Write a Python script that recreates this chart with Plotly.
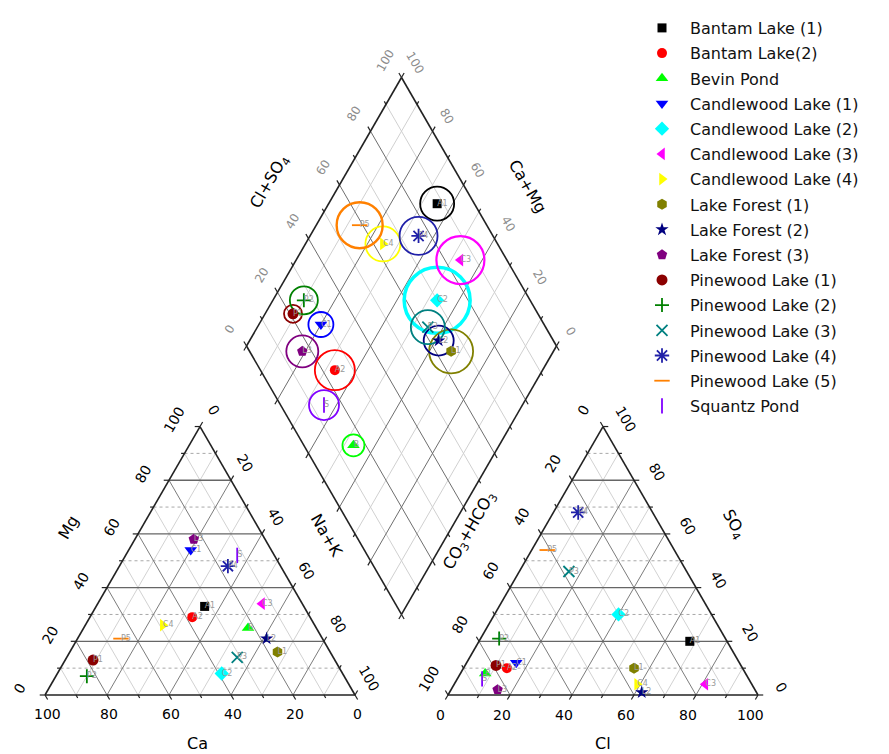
import math
import plotly.graph_objects as go

# ---------------- data (percent of meq) ----------------
names = ["Bantam Lake (1)", "Bantam Lake(2)", "Bevin Pond", "Candlewood Lake (1)",
         "Candlewood Lake (2)", "Candlewood Lake (3)", "Candlewood Lake (4)",
         "Lake Forest (1)", "Lake Forest (2)", "Lake Forest (3)", "Pinewood Lake (1)",
         "Pinewood Lake (2)", "Pinewood Lake (3)", "Pinewood Lake (4)",
         "Pinewood Lake (5)", "Squantz Pond"]
ids = ["A1", "A2", "B", "C1", "C2", "C3", "C4", "L1", "L2", "L3",
       "P1", "P2", "P3", "P4", "P5", "S"]
ca = [32, 38, 22, 26, 39, 13, 49, 17, 18, 23, 78, 83, 31, 17, 65, 12]
mg = [33, 29, 25, 54, 8, 34, 26, 16, 21, 58, 13, 7, 14, 48, 21, 52]
na_k = [35, 33, 53, 20, 53, 53, 25, 67, 61, 19, 9, 10, 55, 35, 14, 36]
cl = [68, 14, 8, 16, 40, 81, 59, 55, 62, 15, 10, 6, 16, 8, 5, 8]
so4 = [20, 10, 8, 12, 30, 4, 4, 10, 1, 2, 11, 21, 46, 68, 54, 6]
co3_hco3 = [12, 76, 84, 72, 30, 15, 37, 35, 37, 83, 79, 73, 38, 24, 41, 86]
tds = [340, 400, 220, 250, 660, 480, 350, 440, 300, 320, 180, 280, 340, 380, 460, 300]
tick_values = [0, 20, 40, 60, 80, 100]

# ---------------- styles ----------------
colors = ["#000000", "#ff0000", "#00ff00", "#0000ff", "#00ffff", "#ff00ff", "#ffff00",
          "#808000", "#000080", "#800080", "#8b0000", "#008000", "#008080", "#2020a8",
          "#ff8000", "#8000ff"]
symbols = ["square", "circle", "triangle-up", "triangle-down", "diamond", "triangle-left",
           "triangle-right", "hexagon", "star", "pentagon", "circle", "cross-thin-open",
           "x-thin-open", "asterisk-open", "line-ew-open", "line-ns-open"]
msizes = [9, 10, 11, 11, 11, 11, 11, 11, 10, 11, 11, 10, 11, 12, 11, 11]
circle_w = [1.8, 1.8, 1.8, 1.8, 3.5, 2.2, 1.8, 1.8, 1.8, 1.8, 1.8, 1.8, 1.8, 1.8, 2.4, 1.8]

FONT = "DejaVu Sans"
PAD = 8              # default page margin around the figure div
SCALE = 3.1          # px per unit
W, Hpx = 889 - PAD, 754 - PAD
OX, OY = 45 - PAD, 695 - PAD
H = 100 * math.sqrt(3) / 2


def upx(px, py):
    """page pixel -> data units"""
    return ((px - PAD - OX) / SCALE, (OY - (py - PAD)) / SCALE)


def cat_xy(c, m, n):
    t = c + m + n
    m, n = 100 * m / t, 100 * n / t
    return (n + m / 2, m * H / 100)


def an_xy(k, s, l):
    t = k + s + l
    s, l = 100 * s / t, 100 * l / t
    return (130 + l + s / 2, s * H / 100)


def dia_xy(n, k):
    return (115 + (n - k) / 2, (230 - n - k) * H / 100)


fig = go.Figure()


def add_segments(segs, color, width, dash="solid"):
    xs, ys = [], []
    for p, q in segs:
        xs += [p[0], q[0], None]
        ys += [p[1], q[1], None]
    fig.add_trace(go.Scatter(x=xs, y=ys, mode="lines", showlegend=False, hoverinfo="skip",
                             line=dict(color=color, width=width, dash=dash)))


# ---------------- grids ----------------
hor_major, hor_minor, dia_major, dia_minor, dm_major, dm_minor = [], [], [], [], [], []
for v in range(10, 100, 10):
    major = v % 20 == 0
    (hor_major if major else hor_minor).append((cat_xy(100 - v, v, 0), cat_xy(0, v, 100 - v)))
    (dia_major if major else dia_minor).append((cat_xy(v, 100 - v, 0), cat_xy(v, 0, 100 - v)))
    (dia_major if major else dia_minor).append((cat_xy(100 - v, 0, v), cat_xy(0, 100 - v, v)))
    (hor_major if major else hor_minor).append((an_xy(100 - v, v, 0), an_xy(0, v, 100 - v)))
    (dia_major if major else dia_minor).append((an_xy(100 - v, 0, v), an_xy(0, 100 - v, v)))
    (dia_major if major else dia_minor).append((an_xy(v, 100 - v, 0), an_xy(v, 0, 100 - v)))
    (dm_major if major else dm_minor).append((dia_xy(v, 0), dia_xy(v, 100)))
    (dm_major if major else dm_minor).append((dia_xy(0, v), dia_xy(100, v)))

add_segments(dia_minor, "#d2d2d2", 1)
add_segments(dm_minor, "#d0d0d0", 1)
add_segments(hor_minor, "#a8a8a8", 1, "dot")
add_segments(dia_major, "#7c7c7c", 1)
add_segments(dm_major, "#6e6e6e", 1)
add_segments(hor_major, "#666666", 1.3)

# ---------------- outlines ----------------
outline = []
tri_l = [cat_xy(100, 0, 0), cat_xy(0, 100, 0), cat_xy(0, 0, 100)]
tri_r = [an_xy(100, 0, 0), an_xy(0, 100, 0), an_xy(0, 0, 100)]
dmd = [dia_xy(0, 100), dia_xy(0, 0), dia_xy(100, 0), dia_xy(100, 100)]
for poly in (tri_l, tri_r, dmd):
    for i in range(len(poly)):
        outline.append((poly[i], poly[(i + 1) % len(poly)]))

s3 = math.sqrt(3) / 2
axes_def = [
    (lambda v: cat_xy(v, 0, 100 - v), (0.5, -s3)),      # Ca base
    (lambda v: cat_xy(100 - v, v, 0), (-1, 0)),         # Mg left
    (lambda v: cat_xy(0, 100 - v, v), (0.5, s3)),       # Na+K right
    (lambda v: an_xy(100 - v, 0, v), (-0.5, -s3)),      # Cl base
    (lambda v: an_xy(v, 100 - v, 0), (-0.5, s3)),       # CO3 left
    (lambda v: an_xy(0, v, 100 - v), (1, 0)),           # SO4 right
    (lambda v: dia_xy(0, 100 - v), (-0.5, s3)),         # Cl+SO4 upper-left
    (lambda v: dia_xy(100 - v, 0), (0.5, s3)),          # Ca+Mg upper-right
    (lambda v: dia_xy(v, 100), (-0.5, -s3)),            # lower-left
    (lambda v: dia_xy(100, v), (0.5, -s3)),             # lower-right
]
ticks = []
for f, (dx, dy) in axes_def:
    for v in range(0, 101, 10):
        p = f(v)
        ln = 1.7 if v % 20 == 0 else 1.1
        ticks.append((p, (p[0] + dx * ln, p[1] + dy * ln)))
add_segments(ticks, "#222222", 1.2)
add_segments(outline, "#222222", 1.6)

# ---------------- diamond circles (size ~ TDS) ----------------
for i, nm in enumerate(names):
    dx_, dy_ = dia_xy(na_k[i], co3_hco3[i])
    fig.add_trace(go.Scatter(
        x=[dx_], y=[dy_], mode="markers", legendgroup=nm, showlegend=False,
        marker=dict(symbol="circle-open", size=tds[i] / 10, color=colors[i],
                    line=dict(color=colors[i], width=circle_w[i])),
        hoverinfo="skip"))

# ---------------- sample markers ----------------
lab_x, lab_y, lab_t = [], [], []
for i, nm in enumerate(names):
    p1 = cat_xy(ca[i], mg[i], na_k[i])
    p2 = an_xy(co3_hco3[i], so4[i], cl[i])
    p3 = dia_xy(na_k[i], co3_hco3[i])
    open_sym = symbols[i].endswith("-open")
    mk = dict(symbol=symbols[i], size=msizes[i], color=colors[i],
              line=dict(color=colors[i], width=1.8 if open_sym else 0))
    fig.add_trace(go.Scatter(
        x=[p1[0], p2[0], p3[0]], y=[p1[1], p2[1], p3[1]], mode="markers",
        name=nm, legendgroup=nm, showlegend=True, marker=mk,
        hovertemplate=nm + "<extra></extra>"))
    for p in (p1, p2, p3):
        lab_x.append(p[0])
        lab_y.append(p[1])
        lab_t.append(ids[i])

fig.add_trace(go.Scatter(x=lab_x, y=lab_y, text=lab_t, mode="text", textposition="middle right",
                         textfont=dict(family=FONT, size=8, color="#9a9a9a"),
                         showlegend=False, hoverinfo="skip"))

# ---------------- tick labels ----------------
ann = []
label_defs = [
    (lambda v: cat_xy(v, 0, 100 - v), (2, 19), 0, "black", 14),
    (lambda v: cat_xy(100 - v, v, 0), (-26, -6.5), -60, "black", 14),
    (lambda v: cat_xy(0, 100 - v, v), (14, -17), 60, "black", 14),
    (lambda v: an_xy(100 - v, 0, v), (-8, 20), 0, "black", 14),
    (lambda v: an_xy(v, 100 - v, 0), (-19.5, -16.5), -60, "black", 14),
    (lambda v: an_xy(0, v, 100 - v), (23, -8), 60, "black", 14),
    (lambda v: dia_xy(0, 100 - v), (-16.5, -16.8), -60, "#8c8c8c", 12),
    (lambda v: dia_xy(100 - v, 0), (14, -15), 60, "#8c8c8c", 12),
]
for f, (ox, oy), ang, col, fs in label_defs:
    for v in tick_values:
        p = f(v)
        ann.append(dict(x=p[0] + ox / SCALE, y=p[1] - oy / SCALE, text=str(v), showarrow=False,
                        textangle=ang, xanchor="center", yanchor="middle",
                        font=dict(family=FONT, size=fs, color=col)))

titles = [
    ("Ca", (197, 743), 0), ("Mg", (68, 527), -60), ("Na+K", (327, 535), 60),
    ("Cl", (603, 743), 0), ("CO<sub>3</sub>+HCO<sub>3</sub>", (469, 531), -60),
    ("SO<sub>4</sub>", (734, 524), 60), ("Cl+SO<sub>4</sub>", (269, 182), -60),
    ("Ca+Mg", (528, 186), 60),
]
for t, (px, py), ang in titles:
    x, y = upx(px, py)
    ann.append(dict(x=x, y=y, text=t, showarrow=False, textangle=ang,
                    xanchor="center", yanchor="middle",
                    font=dict(family=FONT, size=16, color="black")))

fig.update_layout(
    width=W, height=Hpx, autosize=False,
    margin=dict(l=0, r=0, t=0, b=0, pad=0),
    paper_bgcolor="white", plot_bgcolor="white",
    xaxis=dict(range=[(0 - OX) / SCALE, (W - OX) / SCALE], visible=False, fixedrange=True),
    yaxis=dict(range=[(OY - Hpx) / SCALE, OY / SCALE], visible=False, fixedrange=True),
    annotations=ann,
    showlegend=True,
    legend=dict(x=(634 - PAD) / W, y=1 - 3 / Hpx, xanchor="left", yanchor="top",
                bgcolor="rgba(0,0,0,0)", tracegroupgap=1.4, itemwidth=46,
                font=dict(family=FONT, size=16, color="#111111")),
)

fig.write_html("out.html")
